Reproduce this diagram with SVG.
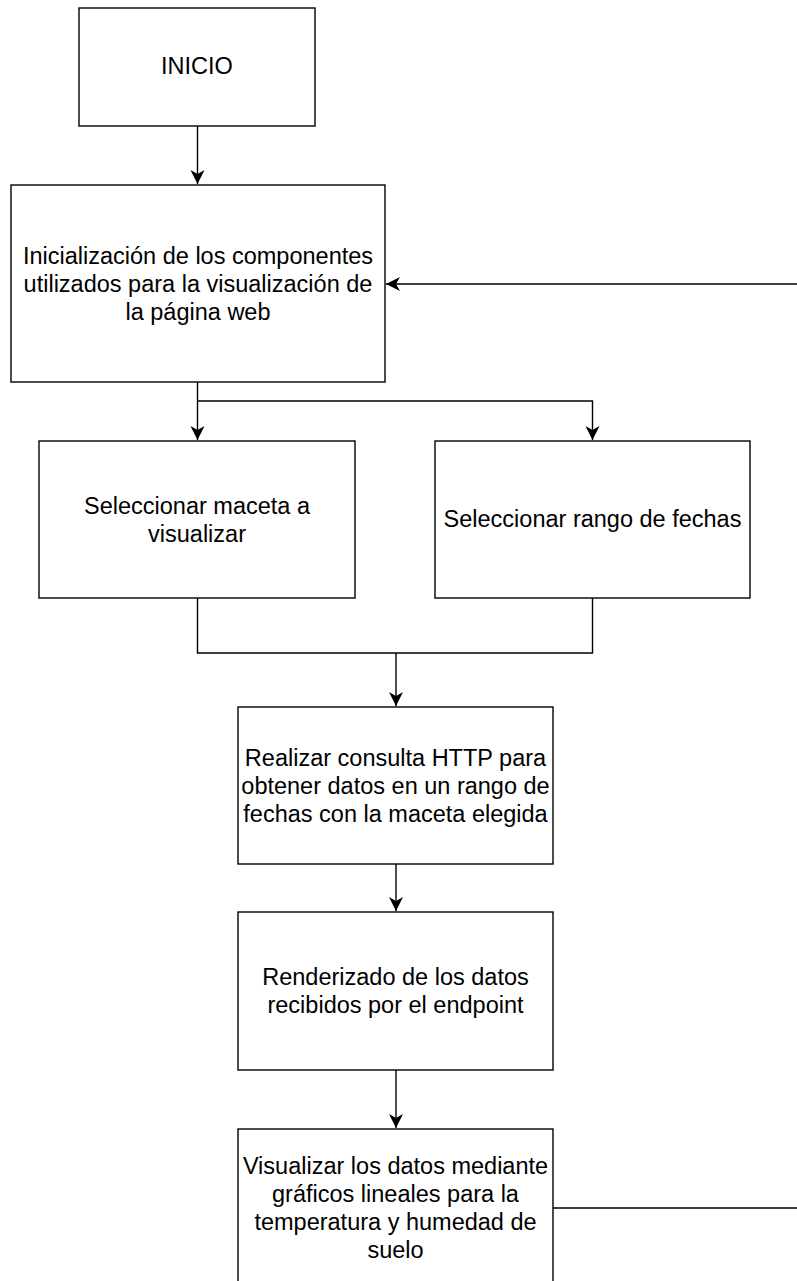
<svg xmlns="http://www.w3.org/2000/svg" width="797" height="1281" viewBox="0 0 797 1281">
<style>
.box{fill:#fff;stroke:#000;stroke-width:1.4}
.lbl{font-family:"Liberation Sans",Arial,sans-serif;font-size:23.5px;fill:#000;text-anchor:middle}
.edge{fill:none;stroke:#000;stroke-width:1.4}
</style>
<defs>
<marker id="arr" markerUnits="userSpaceOnUse" viewBox="-15 -8 16 16" refX="0" refY="0" markerWidth="16" markerHeight="16" orient="auto">
<path d="M0,0 L-14,-7 L-10,0 L-14,7 Z" fill="#000"/>
</marker>
</defs>
<rect width="797" height="1281" fill="#fff"/>
<g id="edges">
<path class="edge" d="M197.5,126 V184" marker-end="url(#arr)"/>
<path class="edge" d="M197.5,382 V440" marker-end="url(#arr)"/>
<path class="edge" d="M197.5,401 H592.5 V440" marker-end="url(#arr)"/>
<path class="edge" d="M197.5,598 V653 H592.5 V598"/>
<path class="edge" d="M396,653 V706" marker-end="url(#arr)"/>
<path class="edge" d="M396,864 V911" marker-end="url(#arr)"/>
<path class="edge" d="M396,1070 V1128" marker-end="url(#arr)"/>
<path class="edge" d="M553,1208 H810 V284 H386" marker-end="url(#arr)"/>
</g>
<g id="n1"><rect class="box" x="79" y="8" width="236" height="118"/>
<text class="lbl" x="197" y="74">INICIO</text></g>
<g id="n2"><rect class="box" x="11" y="185" width="374" height="197"/>
<text class="lbl" x="198" y="263.5">Inicialización de los componentes</text>
<text class="lbl" x="198" y="291.7">utilizados para la visualización de</text>
<text class="lbl" x="198" y="320">la página web</text></g>
<g id="n3"><rect class="box" x="39" y="441" width="316" height="157"/>
<text class="lbl" x="197" y="513.6">Seleccionar maceta a</text>
<text class="lbl" x="197" y="541.8">visualizar</text></g>
<g id="n4"><rect class="box" x="435" y="441" width="315" height="157"/>
<text class="lbl" x="592.5" y="527">Seleccionar rango de fechas</text></g>
<g id="n5"><rect class="box" x="238" y="707" width="315" height="157"/>
<text class="lbl" x="395.5" y="765.5">Realizar consulta HTTP para</text>
<text class="lbl" x="395.5" y="793.7">obtener datos en un rango de</text>
<text class="lbl" x="395.5" y="821.9">fechas con la maceta elegida</text></g>
<g id="n6"><rect class="box" x="238" y="912" width="315" height="158"/>
<text class="lbl" x="395.5" y="985">Renderizado de los datos</text>
<text class="lbl" x="395.5" y="1013.3">recibidos por el endpoint</text></g>
<g id="n7"><rect class="box" x="238" y="1129" width="315" height="158"/>
<text class="lbl" x="395.5" y="1174">Visualizar los datos mediante</text>
<text class="lbl" x="395.5" y="1202">gráficos lineales para la</text>
<text class="lbl" x="395.5" y="1230">temperatura y humedad de</text>
<text class="lbl" x="395.5" y="1258">suelo</text></g>
</svg>
